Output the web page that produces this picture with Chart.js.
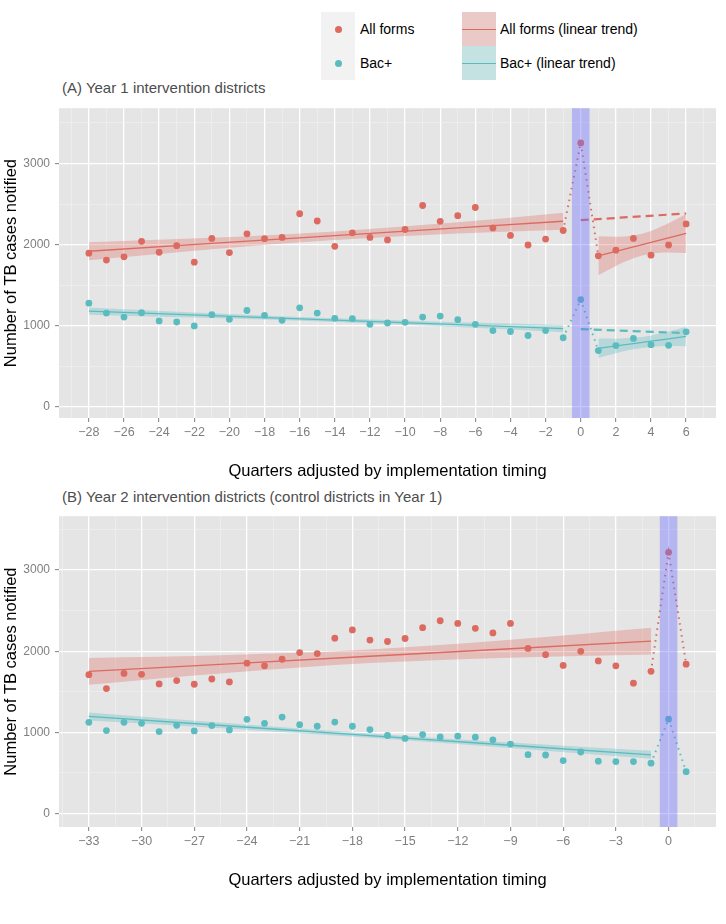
<!DOCTYPE html>
<html>
<head>
<meta charset="utf-8">
<script src="https://cdn.jsdelivr.net/npm/chart.js@4/dist/chart.umd.min.js"></script>
<style>
  body { margin:0; width:726px; height:924px; background:#fff; position:relative; overflow:hidden; font-family:'Liberation Sans', Arial, sans-serif; }
  canvas { position:absolute; left:0; }
  .txt { position:absolute; white-space:nowrap; line-height:1; }
  .key { position:absolute; width:34px; height:34px; background:#f2f2f2; }
  .dot { position:absolute; left:14px; top:14px; width:7px; height:7px; border-radius:50%; }
  .bar { position:absolute; left:0; top:17px; width:34px; height:1.3px; }
</style>
</head>
<body>

<!-- Légende -->
<div class="key" style="left:321px;top:12px"><div class="dot" style="background:#dc6a60"></div></div>
<div class="key" style="left:321px;top:46px"><div class="dot" style="background:#5bbcc0"></div></div>
<div class="txt" style="left:360px;top:22px;font-size:14px">All forms</div>
<div class="txt" style="left:360px;top:56px;font-size:14px">Bac+</div>
<div class="key" style="left:462px;top:12px;background:#ebc9c6"><div class="bar" style="background:#dc6a60"></div></div>
<div class="key" style="left:462px;top:46px;background:#c5e2e3"><div class="bar" style="background:#5bbcc0"></div></div>
<div class="txt" style="left:500px;top:22px;font-size:14px">All forms (linear trend)</div>
<div class="txt" style="left:500px;top:56px;font-size:14px">Bac+ (linear trend)</div>

<!-- Titres des panneaux -->
<div class="txt" style="left:62px;top:80px;font-size:15px;color:#4d4d4d">(A) Year 1 intervention districts</div>
<div class="txt" style="left:62px;top:489px;font-size:15px;color:#4d4d4d">(B) Year 2 intervention districts (control districts in Year 1)</div>

<canvas id="chart-a" width="726" height="400" style="top:96px"></canvas>
<canvas id="chart-b" width="726" height="401" style="top:504px"></canvas>

<script>
// ─────────────────────────────────────────────
// 📊 Données
// ─────────────────────────────────────────────

// Panneau A : trimestres -28 à 6
const quartersA = [-28,-27,-26,-25,-24,-23,-22,-21,-20,-19,-18,-17,-16,-15,-14,-13,-12,-11,-10,-9,-8,-7,-6,-5,-4,-3,-2,-1,0,1,2,3,4,5,6];
const allFormsA = [1894,1809,1849,2040,1906,1987,1784,2076,1902,2133,2072,2089,2380,2291,1979,2145,2089,2057,2186,2482,2287,2356,2457,2206,2113,1995,2068,2174,3253,1862,1931,2076,1870,1995,2255];
const bacPosA   = [1278,1156,1107,1160,1059,1046,998,1136,1079,1188,1128,1067,1221,1156,1091,1087,1018,1034,1042,1107,1119,1075,1018,941,929,880,941,852,1322,694,755,844,767,759,925];

// Tendances linéaires avant l'intervention (A)
const preQA         = [-28,-21,-14,-7,-1];
const allTrendPreA  = [1918,2014,2110,2206,2288];
const allUpPreA     = [2029,2084,2162,2274,2393];
const allLoPreA     = [1807,1944,2058,2138,2183];
const bacTrendPreA  = [1180,1124,1069,1013,965];
const bacUpPreA     = [1225,1154,1091,1042,1010];
const bacLoPreA     = [1135,1094,1047,984,920];

// Tendances linéaires après l'intervention (A)
const postQA        = [1,2,3,4,5,6];
const allTrendPostA = [1862,1917,1972,2027,2082,2137];
const allUpPostA    = [2102,2097,2113,2168,2262,2377];
const allLoPostA    = [1622,1737,1831,1886,1902,1897];
const bacTrendPostA = [722,751,780,810,839,868];
const bacUpPostA    = [842,841,851,881,929,988];
const bacLoPostA    = [602,661,709,739,749,748];

// Prolongement de la tendance pré-intervention (pointillés longs)
const cfQA   = [0,6];
const allCfA = [2301,2383];
const bacCfA = [958,910];

// Panneau B : trimestres -33 à 1
const quartersB = [-33,-32,-31,-30,-29,-28,-27,-26,-25,-24,-23,-22,-21,-20,-19,-18,-17,-16,-15,-14,-13,-12,-11,-10,-9,-8,-7,-6,-5,-4,-3,-2,-1,0,1];
const allFormsB = [1711,1540,1727,1715,1597,1638,1593,1658,1622,1853,1820,1901,1983,1971,2161,2263,2138,2120,2157,2291,2376,2343,2282,2226,2343,2035,1958,1825,1999,1881,1820,1606,1752,3219,1841];
const bacPosB   = [1123,1022,1123,1111,1010,1086,1018,1083,1030,1160,1111,1188,1095,1075,1127,1075,1034,961,925,973,944,953,940,908,855,725,721,652,758,645,640,640,620,1163,515];

const trendQB   = [-33,-25,-17,-9,-1];
const allTrendB = [1752,1845,1938,2031,2124];
const allUpB    = [1917,1955,2022,2141,2289];
const allLoB    = [1587,1735,1854,1921,1959];
const bacTrendB = [1196,1078,960,841,723];
const bacUpB    = [1246,1111,986,874,773];
const bacLoB    = [1146,1045,934,808,673];

// Trimestre de mise en place (bande bleue)
const bandQuarters = [-0.5, 0.5];

// Graduations (majeures + mineures de la grille)
const yTicks  = [0,500,1000,1500,2000,2500,3000,3500];
const xTicksA = [-29,-28,-27,-26,-25,-24,-23,-22,-21,-20,-19,-18,-17,-16,-15,-14,-13,-12,-11,-10,-9,-8,-7,-6,-5,-4,-3,-2,-1,0,1,2,3,4,5,6,7];
const xTicksB = [-34.5,-33,-31.5,-30,-28.5,-27,-25.5,-24,-22.5,-21,-19.5,-18,-16.5,-15,-13.5,-12,-10.5,-9,-7.5,-6,-4.5,-3,-1.5,0,1.5];

// ─────────────────────────────────────────────
// 🎨 Couleurs et polices
// ─────────────────────────────────────────────
const C = {
  red:'#dc6a60', redL:'rgba(220,106,96,.32)',
  teal:'#5bbcc0', tealL:'rgba(91,188,192,.32)',
  band:'rgba(110,110,255,.4)', panel:'#e5e5e5', grey:'#7f7f7f'
};
const FAM = "'Liberation Sans', Arial, sans-serif";

const xy = (xs, ys) => xs.map((x, i) => ({ x, y: ys[i] }));
const minus = v => String(v).replace('-', '\u2212');

// Fond gris du panneau + bande bleue par-dessus les séries
const panelPlugin = {
  id:'panel',
  beforeDraw(chart) {
    const { ctx, chartArea:a } = chart;
    ctx.save(); ctx.fillStyle = C.panel; ctx.fillRect(a.left, a.top, a.right - a.left, a.bottom - a.top); ctx.restore();
  },
  afterDatasetsDraw(chart) {
    const { ctx, chartArea:a, scales:{x} } = chart;
    const x0 = x.getPixelForValue(bandQuarters[0]), x1 = x.getPixelForValue(bandQuarters[1]);
    ctx.save(); ctx.fillStyle = C.band; ctx.fillRect(x0, a.top, x1 - x0, a.bottom - a.top); ctx.restore();
  }
};

// Jeux de données standards
const ribbon = (q, up, lo, col) => [
  { data:xy(q, up), borderWidth:0, pointRadius:0, fill:false, order:4, cubicInterpolationMode:'monotone' },
  { data:xy(q, lo), borderWidth:0, pointRadius:0, fill:'-1', backgroundColor:col, order:4, cubicInterpolationMode:'monotone' }
];
const trend  = (q, v, col) => ({ data:xy(q, v), borderColor:col, borderWidth:1.3, pointRadius:0, fill:false, order:3 });
const dashed = (q, v, col) => ({ data:xy(q, v), borderColor:col, borderWidth:2.2, borderDash:[8,5], pointRadius:0, fill:false, order:3 });
const dotted = (q, v, col) => ({ data:xy(q, v), borderColor:col, borderWidth:2, borderDash:[1.5,4.5], pointRadius:0, fill:false, order:2 });
const points = (q, v, col) => ({ data:xy(q, v), showLine:false, pointRadius:3.4, pointBackgroundColor:col, pointBorderWidth:0, order:1 });

function makePanel(id, datasets, x, y) {
  const isMajorX = v => Math.abs(v % x.major) < 1e-6;
  const isMajorY = v => Math.abs(v % 1000) < 1e-6;
  return new Chart(document.getElementById(id), {
    type:'line',
    data:{ datasets },
    plugins:[panelPlugin],
    options:{
      responsive:false, animation:false, events:[],
      layout:{ padding:{ top:8, right:10, left:0, bottom:0 } },
      plugins:{ legend:{display:false}, tooltip:{enabled:false} },
      scales:{
        x:{
          type:'linear', min:x.min, max:x.max,
          afterBuildTicks: s => { s.ticks = x.ticks.map(value => ({ value })); },
          afterFit: s => { s.height = 78; },
          border:{display:false},
          grid:{
            color: c => isMajorX(c.tick.value) ? '#ffffff' : '#f2f2f2',
            lineWidth: c => isMajorX(c.tick.value) ? 1.3 : 0.6,
            tickColor: c => isMajorX(c.tick.value) ? C.grey : 'rgba(0,0,0,0)',
            tickLength:4, tickWidth:1
          },
          ticks:{ autoSkip:false, maxRotation:0, padding:3,
                  color:C.grey, font:{family:FAM, size:12.5},
                  callback: v => isMajorX(v) ? minus(v) : '' },
          title:{ display:true, text:'Quarters adjusted by implementation timing', color:'#000',
                  font:{family:FAM, size:16.5}, padding:{top:0, bottom:15} }
        },
        y:{
          type:'linear', min:y.min, max:y.max,
          afterBuildTicks: s => { s.ticks = yTicks.map(value => ({ value })); },
          afterFit: s => { s.width = 59; },
          border:{display:false},
          grid:{
            color: c => isMajorY(c.tick.value) ? '#ffffff' : '#f2f2f2',
            lineWidth: c => isMajorY(c.tick.value) ? 1.3 : 0.6,
            tickColor: c => isMajorY(c.tick.value) ? C.grey : 'rgba(0,0,0,0)',
            tickLength:4, tickWidth:1
          },
          ticks:{ autoSkip:false, padding:5, color:C.grey, font:{family:FAM, size:12},
                  callback: v => isMajorY(v) ? String(v) : '' },
          title:{ display:true, text:'Number of TB cases notified', color:'#000',
                  font:{family:FAM, size:16.5}, padding:{top:2, bottom:0} }
        }
      }
    }
  });
}

// ─────────────────────────────────────────────
// 📈 Panneau A
// ─────────────────────────────────────────────
makePanel('chart-a', [
  points(quartersA, allFormsA, C.red),
  points(quartersA, bacPosA, C.teal),
  dotted(quartersA.slice(27, 30), allFormsA.slice(27, 30), C.red),
  dotted(quartersA.slice(27, 30), bacPosA.slice(27, 30), C.teal),
  trend(preQA, allTrendPreA, C.red),
  trend(preQA, bacTrendPreA, C.teal),
  trend(postQA, allTrendPostA, C.red),
  trend(postQA, bacTrendPostA, C.teal),
  dashed(cfQA, allCfA, C.red),
  dashed(cfQA, bacCfA, C.teal),
  ...ribbon(preQA, allUpPreA, allLoPreA, C.redL),
  ...ribbon(preQA, bacUpPreA, bacLoPreA, C.tealL),
  ...ribbon(postQA, allUpPostA, allLoPostA, C.redL),
  ...ribbon(postQA, bacUpPostA, bacLoPostA, C.tealL)
], { min:-29.7, max:7.7, ticks:xTicksA, major:2 }, { min:-137, max:3681 });

// ─────────────────────────────────────────────
// 📈 Panneau B
// ─────────────────────────────────────────────
makePanel('chart-b', [
  points(quartersB, allFormsB, C.red),
  points(quartersB, bacPosB, C.teal),
  dotted(quartersB.slice(32, 35), allFormsB.slice(32, 35), C.red),
  dotted(quartersB.slice(32, 35), bacPosB.slice(32, 35), C.teal),
  trend(trendQB, allTrendB, C.red),
  trend(trendQB, bacTrendB, C.teal),
  ...ribbon(trendQB, allUpB, allLoB, C.redL),
  ...ribbon(trendQB, bacUpB, bacLoB, C.tealL)
], { min:-34.7, max:2.7, ticks:xTicksB, major:3 }, { min:-167, max:3665 });
</script>
</body>
</html>
